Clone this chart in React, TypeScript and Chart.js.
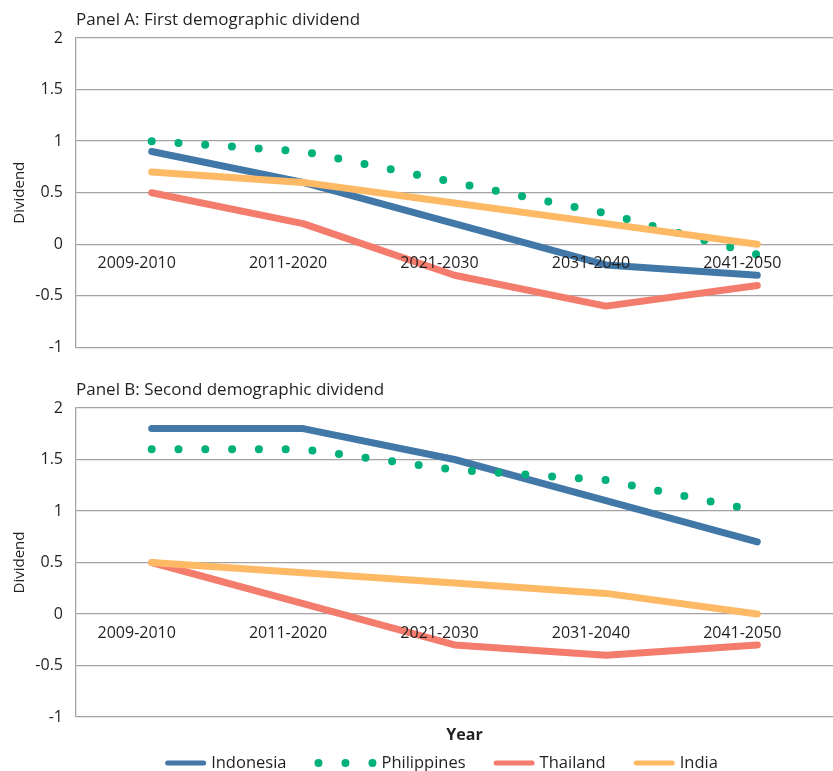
import React, { useEffect, useRef } from "react";
import { Chart, registerables } from "chart.js";

Chart.register(...registerables);

const PERIODS = ["2009-2010", "2011-2020", "2021-2030", "2031-2040", "2041-2050"];
const Y_TICKS = [-1, -0.5, 0, 0.5, 1, 1.5, 2];
const COUNTRIES = ["Indonesia", "Philippines", "Thailand", "India"];
const COLORS = ["#4178A8", "#00B07B", "#F47C6D", "#FDB964"];

const FIRST_INDONESIA = [0.9, 0.6, 0.2, -0.2, -0.3];
const FIRST_PHILIPPINES = [1.0, 0.9, 0.6, 0.3, -0.1];
const FIRST_THAILAND = [0.5, 0.2, -0.3, -0.6, -0.4];
const FIRST_INDIA = [0.7, 0.6, 0.4, 0.2, 0.0];

const SECOND_INDONESIA = [1.8, 1.8, 1.5, 1.1, 0.7];
const SECOND_PHILIPPINES = [1.6, 1.6, 1.4, 1.3, 1.0];
const SECOND_THAILAND = [0.5, 0.1, -0.3, -0.4, -0.3];
const SECOND_INDIA = [0.5, 0.4, 0.3, 0.2, 0.0];

const PANEL_TITLES = ["Panel A: First demographic dividend", "Panel B: Second demographic dividend"];
const Y_TITLE = "Dividend";
const X_TITLE = "Year";

const FONT = "'Open Sans', 'Noto Sans', sans-serif";
const TEXT = "#231F20";
const GRID = "#A3A3A3";

Chart.defaults.font.family = FONT;

const legendPlugin = {
  id: "bottomLegend",
  afterDraw(chart: any, _args: any, opts: any) {
    if (!opts || !opts.show) return;
    const ctx = chart.ctx;
    const area = chart.chartArea;
    ctx.save();
    const cx = (area.left + area.right) / 2;
    ctx.font = `bold 16px ${FONT}`;
    ctx.fillStyle = TEXT;
    ctx.textAlign = "center";
    ctx.textBaseline = "middle";
    ctx.fillText(X_TITLE, cx + 10, area.bottom + 18);

    ctx.font = `16.5px ${FONT}`;
    const items = chart.data.datasets.map((ds: any) => ({
      label: ds.label,
      color: ds.borderColor,
      dotted: !!(ds.borderDash && ds.borderDash.length),
    }));
    const sampleW = (it: any) => (it.dotted ? 62 : 41);
    const gapText = 5;
    const gapItem = 28;
    let total = 0;
    items.forEach((it: any, i: number) => {
      total += sampleW(it) + gapText + ctx.measureText(it.label).width + (i ? gapItem : 0);
    });
    let x = cx - 13 - total / 2;
    const y = area.bottom + 46;
    ctx.textAlign = "left";
    items.forEach((it: any) => {
      const w = sampleW(it);
      ctx.strokeStyle = it.color;
      ctx.fillStyle = it.color;
      if (it.dotted) {
        for (let k = 0; k < 3; k++) {
          ctx.beginPath();
          ctx.arc(x + 4 + k * 27, y, 4, 0, Math.PI * 2);
          ctx.fill();
        }
      } else {
        ctx.lineWidth = 5;
        ctx.lineCap = "round";
        ctx.beginPath();
        ctx.moveTo(x + 2.5, y);
        ctx.lineTo(x + w - 2.5, y);
        ctx.stroke();
      }
      x += w + gapText;
      ctx.fillStyle = TEXT;
      ctx.fillText(it.label, x, y);
      x += ctx.measureText(it.label).width + gapItem;
    });
    ctx.restore();
  },
};

function makeDatasets(series: number[][]) {
  const orders = [3, 2, 1, 0];
  return COUNTRIES.map((name, i) => {
    const dotted = name === "Philippines";
    return {
      label: name,
      data: series[i],
      borderColor: COLORS[i],
      backgroundColor: COLORS[i],
      borderWidth: dotted ? 8 : 7,
      borderDash: dotted ? [0, 26.8] : [],
      borderCapStyle: "round" as const,
      borderJoinStyle: "round" as const,
      pointRadius: 0,
      pointHoverRadius: 0,
      tension: 0,
      fill: false,
      order: orders[i],
    };
  });
}

function makeConfig(title: string, series: number[][], showLegend: boolean, bottomPad: number): any {
  return {
    type: "line",
    data: { labels: PERIODS, datasets: makeDatasets(series) },
    plugins: [legendPlugin],
    options: {
      animation: false,
      responsive: false,
      events: [],
      layout: { padding: { left: 0, right: 0, top: 0, bottom: bottomPad } },
      plugins: {
        legend: { display: false },
        tooltip: { enabled: false },
        title: {
          display: true,
          text: title,
          align: "start",
          fullSize: false,
          color: TEXT,
          font: { size: 17, weight: "normal", family: FONT },
          padding: { top: 10, bottom: 7.6 },
        },
        bottomLegend: { show: showLegend },
      },
      scales: {
        x: {
          type: "category",
          position: { y: 0 },
          offset: true,
          grid: { display: false, drawTicks: false },
          border: { display: false },
          ticks: {
            z: 1,
            color: TEXT,
            font: { size: 16, family: FONT },
            padding: 10,
            labelOffset: -15,
            maxRotation: 0,
            autoSkip: false,
          },
        },
        y: {
          min: -1,
          max: 2,
          afterBuildTicks: (s: any) => {
            s.ticks = Y_TICKS.map((v) => ({ value: v }));
          },
          afterFit: (s: any) => {
            s.width = 76;
          },
          grid: { color: GRID, lineWidth: 1.3, drawTicks: false },
          border: { color: GRID, width: 1.3 },
          ticks: {
            color: TEXT,
            font: { size: 16, family: FONT },
            padding: 13,
            callback: (v: any) => String(v),
          },
          title: {
            display: true,
            text: Y_TITLE,
            color: TEXT,
            font: { size: 15, family: FONT },
            padding: { top: 11, bottom: 0 },
          },
        },
      },
    },
  };
}

function Panel(props: { title: string; series: number[][]; showLegend: boolean; top: number; height: number; bottomPad: number }) {
  const ref = useRef<HTMLCanvasElement | null>(null);
  useEffect(() => {
    if (!ref.current) return;
    const chart = new Chart(ref.current, makeConfig(props.title, props.series, props.showLegend, props.bottomPad));
    return () => chart.destroy();
  }, []);
  return (
    <div style={{ position: "absolute", left: 0, top: props.top, width: 833, height: props.height }}>
      <canvas ref={ref} width={833} height={props.height} style={{ display: "block", width: 833, height: props.height }} />
    </div>
  );
}

export default function App() {
  return (
    <div style={{ position: "absolute", left: 0, top: 0, width: 833, height: 771, overflow: "hidden", background: "#fff" }}>
      <Panel
        title={PANEL_TITLES[0]}
        series={[FIRST_INDONESIA, FIRST_PHILIPPINES, FIRST_THAILAND, FIRST_INDIA]}
        showLegend={false}
        top={0}
        height={370}
        bottomPad={20}
      />
      <Panel
        title={PANEL_TITLES[1]}
        series={[SECOND_INDONESIA, SECOND_PHILIPPINES, SECOND_THAILAND, SECOND_INDIA]}
        showLegend={true}
        top={370}
        height={401}
        bottomPad={54}
      />
    </div>
  );
}
